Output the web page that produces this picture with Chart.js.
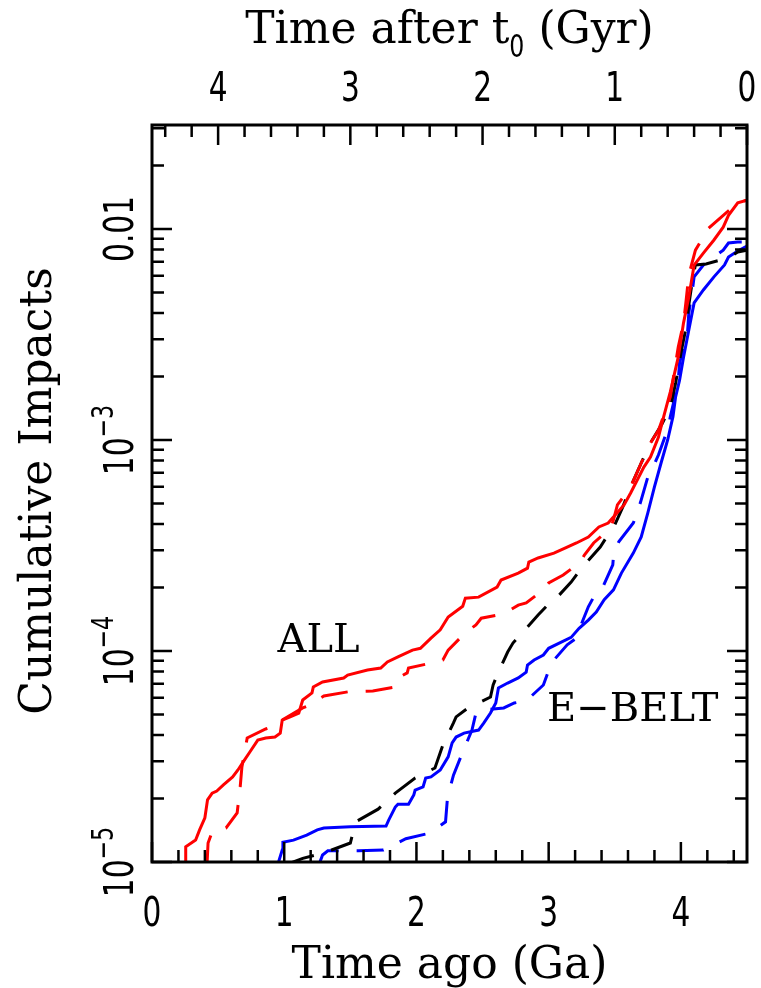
<!DOCTYPE html>
<html>
<head>
<meta charset="utf-8">
<title>Cumulative Impacts</title>
<script src="https://cdn.jsdelivr.net/npm/chart.js@4.4.0/dist/chart.umd.min.js"></script>
<style>
  body { margin: 0; background: #fff; }
  canvas { display: block; }
</style>
</head>
<body>
<canvas id="myChart" width="761" height="988"></canvas>
<script>
'use strict';

// Tick labels
let bottomTickLabels = [0, 1, 2, 3, 4];
let topTickLabels = [4, 3, 2, 1, 0];
let yTickExponents = [-5, -4, -3, -2];

// ALL, solid red
let allSolidAge = [0.25, 0.255, 0.33, 0.36, 0.40, 0.42, 0.455, 0.49, 0.54, 0.61, 0.65, 0.69, 0.74, 0.80, 0.86, 0.93, 0.97, 0.985, 1.045, 1.11, 1.14, 1.21, 1.22, 1.29, 1.45, 1.48, 1.63, 1.73, 1.78, 1.86, 1.97, 2.03, 2.11, 2.18, 2.24, 2.35, 2.37, 2.47, 2.61, 2.64, 2.77, 2.84, 2.85, 2.92, 3.04, 3.14, 3.21, 3.30, 3.38, 3.45, 3.49, 3.57, 3.62, 3.67, 3.72, 3.77, 3.83, 3.87, 3.92, 3.98, 4.02, 4.06, 4.10, 4.17, 4.25, 4.32, 4.36, 4.43, 4.5];
let allSolidCum = [9.9e-6, 1.18e-5, 1.27e-5, 1.42e-5, 1.62e-5, 1.97e-5, 2.12e-5, 2.17e-5, 2.32e-5, 2.53e-5, 2.73e-5, 2.98e-5, 3.32e-5, 3.78e-5, 3.87e-5, 3.91e-5, 4.08e-5, 4.71e-5, 4.87e-5, 5.08e-5, 5.86e-5, 6.33e-5, 6.75e-5, 7.13e-5, 7.45e-5, 7.69e-5, 8.12e-5, 8.30e-5, 8.87e-5, 9.37e-5, 1.01e-4, 1.03e-4, 1.15e-4, 1.26e-4, 1.45e-4, 1.63e-4, 1.78e-4, 1.80e-4, 2.01e-4, 2.17e-4, 2.34e-4, 2.47e-4, 2.64e-4, 2.76e-4, 2.91e-4, 3.11e-4, 3.25e-4, 3.47e-4, 3.87e-4, 4.04e-4, 4.32e-4, 4.92e-4, 5.61e-4, 6.46e-4, 7.44e-4, 8.30e-4, 1.03e-3, 1.29e-3, 1.69e-3, 2.47e-3, 3.59e-3, 4.76e-3, 6.75e-3, 7.69e-3, 8.87e-3, 1.02e-2, 1.16e-2, 1.33e-2, 1.37e-2];

// ALL, dashed red
let allDashAge = [0.417, 0.424, 0.455, 0.56, 0.644, 0.667, 0.68, 0.72, 0.86, 0.95, 0.985, 1.14, 1.20, 1.25, 1.30, 1.48, 1.67, 1.84, 1.86, 1.93, 1.94, 2.11, 2.20, 2.24, 2.37, 2.45, 2.49, 2.66, 2.77, 2.83, 2.96, 3.00, 3.11, 3.24, 3.27, 3.34, 3.47, 3.49, 3.52, 3.62, 3.70, 3.77, 3.83, 3.92, 3.98, 4.02, 4.04, 4.06, 4.11, 4.21, 4.34, 4.43, 4.5];
let allDashCum = [1e-5, 1.23e-5, 1.39e-5, 1.45e-5, 1.71e-5, 2.27e-5, 2.82e-5, 3.87e-5, 4.27e-5, 4.46e-5, 4.71e-5, 5.37e-5, 5.55e-5, 5.86e-5, 6.12e-5, 6.40e-5, 6.46e-5, 6.75e-5, 7.45e-5, 7.87e-5, 8.30e-5, 8.77e-5, 9.06e-5, 1.01e-4, 1.22e-4, 1.33e-4, 1.43e-4, 1.50e-4, 1.65e-4, 1.69e-4, 1.95e-4, 2.10e-4, 2.29e-4, 2.64e-4, 2.85e-4, 3.25e-4, 3.83e-4, 4.18e-4, 4.92e-4, 5.99e-4, 7.78e-4, 9.68e-4, 1.11e-3, 1.60e-3, 2.76e-3, 3.59e-3, 4.61e-3, 6.05e-3, 7.94e-3, 1.01e-2, 1.19e-2, 1.33e-2, 1.37e-2];

// black dashed
let blackDashAge = [1.03, 1.14, 1.31, 1.50, 1.54, 1.71, 1.84, 1.99, 2.14, 2.20, 2.28, 2.30, 2.39, 2.56, 2.58, 2.61, 2.69, 2.73, 2.80, 2.92, 2.98, 3.04, 3.17, 3.22, 3.27, 3.39, 3.43, 3.49, 3.56, 3.62, 3.70, 3.77, 3.86, 3.92, 3.96, 4.00, 4.04, 4.06, 4.09, 4.11, 4.19, 4.36, 4.43, 4.5];
let blackDashCum = [9.8e-6, 1.04e-5, 1.11e-5, 1.23e-5, 1.55e-5, 1.78e-5, 2.12e-5, 2.50e-5, 2.79e-5, 3.59e-5, 4.56e-5, 4.87e-5, 5.37e-5, 6.05e-5, 6.90e-5, 7.69e-5, 9.89e-5, 1.09e-4, 1.22e-4, 1.48e-4, 1.62e-4, 1.73e-4, 2.12e-4, 2.34e-4, 2.56e-4, 3.11e-4, 3.40e-4, 3.83e-4, 4.81e-4, 5.99e-4, 7.78e-4, 9.68e-4, 1.20e-3, 1.43e-3, 1.86e-3, 2.58e-3, 3.43e-3, 4.37e-3, 5.86e-3, 6.75e-3, 6.83e-3, 7.29e-3, 7.78e-3, 7.94e-3];

// E-BELT, solid blue
let ebeltSolidAge = [0.955, 0.985, 0.99, 1.07, 1.17, 1.25, 1.30, 1.50, 1.77, 1.79, 1.84, 1.86, 1.94, 1.98, 1.99, 2.05, 2.07, 2.11, 2.18, 2.24, 2.27, 2.30, 2.36, 2.47, 2.51, 2.56, 2.60, 2.62, 2.69, 2.77, 2.83, 2.84, 2.89, 2.96, 3.00, 3.08, 3.17, 3.23, 3.30, 3.36, 3.42, 3.49, 3.55, 3.64, 3.70, 3.75, 3.80, 3.85, 3.90, 3.94, 3.96, 3.99, 4.02, 4.06, 4.10, 4.17, 4.25, 4.33, 4.36, 4.43, 4.5];
let ebeltSolidCum = [9.9e-6, 1.14e-5, 1.24e-5, 1.27e-5, 1.34e-5, 1.42e-5, 1.45e-5, 1.47e-5, 1.48e-5, 1.58e-5, 1.82e-5, 1.88e-5, 1.88e-5, 2.08e-5, 2.19e-5, 2.27e-5, 2.50e-5, 2.53e-5, 2.73e-5, 3.15e-5, 3.67e-5, 3.91e-5, 4.08e-5, 4.22e-5, 4.56e-5, 5.08e-5, 5.67e-5, 6.68e-5, 7.05e-5, 7.45e-5, 7.94e-5, 8.58e-5, 9.06e-5, 9.57e-5, 1.03e-4, 1.09e-4, 1.16e-4, 1.28e-4, 1.40e-4, 1.53e-4, 1.75e-4, 1.95e-4, 2.34e-4, 2.91e-4, 3.47e-4, 4.51e-4, 5.99e-4, 7.78e-4, 1.00e-3, 1.29e-3, 1.60e-3, 1.92e-3, 2.47e-3, 3.32e-3, 4.46e-3, 5.14e-3, 5.93e-3, 6.75e-3, 7.36e-3, 7.86e-3, 8.3e-3];

// E-BELT, dashed blue
let ebeltDashAge = [1.265, 1.29, 1.33, 1.56, 1.75, 1.92, 2.10, 2.22, 2.235, 2.28, 2.35, 2.42, 2.45, 2.49, 2.66, 2.74, 2.83, 2.96, 3.02, 3.14, 3.21, 3.23, 3.30, 3.34, 3.41, 3.485, 3.492, 3.53, 3.64, 3.67, 3.70, 3.75, 3.79, 3.83, 3.89, 3.91, 3.92, 3.95, 3.98, 3.99, 4.05, 4.06, 4.09, 4.10, 4.17, 4.32, 4.36, 4.43, 4.5];
let ebeltDashCum = [9.8e-6, 1.08e-5, 1.13e-5, 1.13e-5, 1.14e-5, 1.29e-5, 1.37e-5, 1.55e-5, 2.03e-5, 2.58e-5, 3.32e-5, 4.22e-5, 5.08e-5, 5.25e-5, 5.37e-5, 5.67e-5, 5.80e-5, 6.90e-5, 8.77e-5, 1.07e-4, 1.15e-4, 1.26e-4, 1.62e-4, 1.80e-4, 2.01e-4, 2.56e-4, 2.91e-4, 3.29e-4, 4.04e-4, 4.51e-4, 5.20e-4, 6.68e-4, 7.44e-4, 8.49e-4, 1.08e-3, 1.20e-3, 1.29e-3, 1.55e-3, 1.92e-3, 2.32e-3, 3.21e-3, 4.00e-3, 5.31e-3, 5.93e-3, 6.75e-3, 7.94e-3, 8.58e-3, 8.68e-3, 8.68e-3];

// text labels inside the plot, in data units
let allLabel = { text: 'ALL', age: 1.26, cum: 9.9e-5 };
let ebeltLabel = { text: 'E\u2212BELT', age: 3.636, cum: 4.66e-5 };

let numFont = '"DejaVu Sans", sans-serif';
let serifFont = '"DejaVu Serif", serif';


function makePoints(ages, values) {
  let points = [];
  for (let i = 0; i < Math.min(ages.length, values.length); i++) {
    points.push({ x: ages[i], y: values[i] });
  }
  return points;
}

function makeDataset(ages, values, color, dashed) {
  return {
    data: makePoints(ages, values),
    borderColor: color,
    borderWidth: 3,
    borderDash: dashed ? [27, 18] : [],
    pointRadius: 0,
    tension: 0,
    clip: 0
  };
}

// draw text, squeezed sideways and optionally rotated
function drawText(ctx, text, x, y, font, squeeze, align, angle) {
  ctx.save();
  ctx.translate(x, y);
  if (angle) ctx.rotate(angle);
  ctx.scale(squeeze, 1);
  ctx.font = font;
  ctx.textAlign = align;
  ctx.textBaseline = 'alphabetic';
  ctx.fillStyle = '#000';
  ctx.fillText(text, 0, 0);
  ctx.restore();
}

function drawYLabel(ctx, exp, x, y) {
  ctx.save();
  ctx.translate(x, y);
  ctx.rotate(-Math.PI / 2);
  ctx.scale(0.74, 1);
  ctx.fillStyle = '#000';
  ctx.textBaseline = 'alphabetic';
  ctx.textAlign = 'left';
  if (exp === -2) {
    ctx.font = '40px ' + numFont;
    let w = ctx.measureText('0.01').width;
    ctx.fillText('0.01', -w / 2, 0);
  } else {
    ctx.font = '40px ' + numFont;
    let wBase = ctx.measureText('10').width;
    ctx.font = '30px ' + numFont;
    let sup = '\u2212' + Math.abs(exp);
    let wSup = ctx.measureText(sup).width;
    let start = -(wBase + wSup) / 2;
    ctx.font = '40px ' + numFont;
    ctx.fillText('10', start, 0);
    ctx.font = '30px ' + numFont;
    ctx.fillText(sup, start + wBase, -20);
  }
  ctx.restore();
}

let axesPlugin = {
  id: 'axesPlugin',
  afterDatasetsDraw(chart) {
    let ctx = chart.ctx;
    let area = chart.chartArea;
    let xScale = chart.scales.x;
    let yScale = chart.scales.y;

    ctx.save();
    ctx.strokeStyle = '#000';
    ctx.lineWidth = 2.5;
    ctx.beginPath();
    // bottom and top ticks, every 0.2
    for (let i = 0; i <= 22; i++) {
      let v = i * 0.2;
      let px = xScale.getPixelForValue(v);
      let len = i % 5 === 0 ? 20 : 12;
      ctx.moveTo(px, area.bottom);
      ctx.lineTo(px, area.bottom - len);
      let pt = xScale.getPixelForValue(4.5 - v);
      ctx.moveTo(pt, area.top);
      ctx.lineTo(pt, area.top + len);
    }
    // log ticks on left and right
    for (let e = -5; e <= -2; e++) {
      for (let m = 1; m <= 9; m++) {
        let v = m * Math.pow(10, e);
        if (v > yScale.max) break;
        let py = yScale.getPixelForValue(v);
        let len = m === 1 ? 20 : 12;
        ctx.moveTo(area.left, py);
        ctx.lineTo(area.left + len, py);
        ctx.moveTo(area.right, py);
        ctx.lineTo(area.right - len, py);
      }
    }
    ctx.stroke();
    ctx.lineWidth = 3;
    ctx.strokeRect(area.left, area.top, area.right - area.left, area.bottom - area.top);
    ctx.restore();

    // tick labels
    for (let v of bottomTickLabels) {
      drawText(ctx, String(v), xScale.getPixelForValue(v), area.bottom + 64, '40px ' + numFont, 0.74, 'center');
    }
    for (let t of topTickLabels) {
      drawText(ctx, String(t), xScale.getPixelForValue(4.5 - t), area.top - 24, '40px ' + numFont, 0.74, 'center');
    }
    for (let e of yTickExponents) {
      drawYLabel(ctx, e, area.left - 19, yScale.getPixelForValue(Math.pow(10, e)));
    }

    // axis titles
    let midX = (area.left + area.right) / 2;
    drawText(ctx, 'Time ago (Ga)', midX, area.bottom + 116, '44px ' + serifFont, 1, 'center');
    drawText(ctx, 'Cumulative Impacts', 51, 491, '44px ' + serifFont, 1, 'center', -Math.PI / 2);

    // top title with subscript zero
    ctx.save();
    ctx.font = '44px ' + serifFont;
    let part1 = 'Time after t';
    let part2 = ' (Gyr)';
    let w1 = ctx.measureText(part1).width;
    let w2 = ctx.measureText(part2).width;
    ctx.font = '32px ' + numFont;
    let wSub = ctx.measureText('0').width * 0.74;
    ctx.restore();
    let startX = midX - (w1 + wSub + w2) / 2;
    drawText(ctx, part1, startX, 43, '44px ' + serifFont, 1, 'left');
    drawText(ctx, '0', startX + w1, 57, '32px ' + numFont, 0.74, 'left');
    drawText(ctx, part2, startX + w1 + wSub, 43, '44px ' + serifFont, 1, 'left');

    // curve labels
    for (let lab of [allLabel, ebeltLabel]) {
      drawText(ctx, lab.text, xScale.getPixelForValue(lab.age), yScale.getPixelForValue(lab.cum), '40px ' + serifFont, 1, 'center');
    }
  }
};


function renderChart() {
  let chartObject = {
    type: 'line',
    data: {
      datasets: [
        makeDataset(allSolidAge, allSolidCum, '#ff0000', false),
        makeDataset(allDashAge, allDashCum, '#ff0000', true),
        makeDataset(blackDashAge, blackDashCum, '#000000', true),
        makeDataset(ebeltSolidAge, ebeltSolidCum, '#0000ff', false),
        makeDataset(ebeltDashAge, ebeltDashCum, '#0000ff', true)
      ]
    },
    options: {
      responsive: false,
      animation: false,
      devicePixelRatio: 1,
      events: [],
      layout: {
        padding: { left: 152, right: 14, top: 125, bottom: 126 }
      },
      plugins: {
        legend: { display: false },
        tooltip: { enabled: false }
      },
      scales: {
        x: { type: 'linear', min: 0, max: 4.5, display: false },
        y: { type: 'logarithmic', min: 1e-5, max: 0.0311, display: false }
      }
    },
    plugins: [axesPlugin]
  };

  let ctx = document.getElementById('myChart').getContext('2d');
  let myChart = new Chart(ctx, chartObject);
}

renderChart();
</script>
</body>
</html>
